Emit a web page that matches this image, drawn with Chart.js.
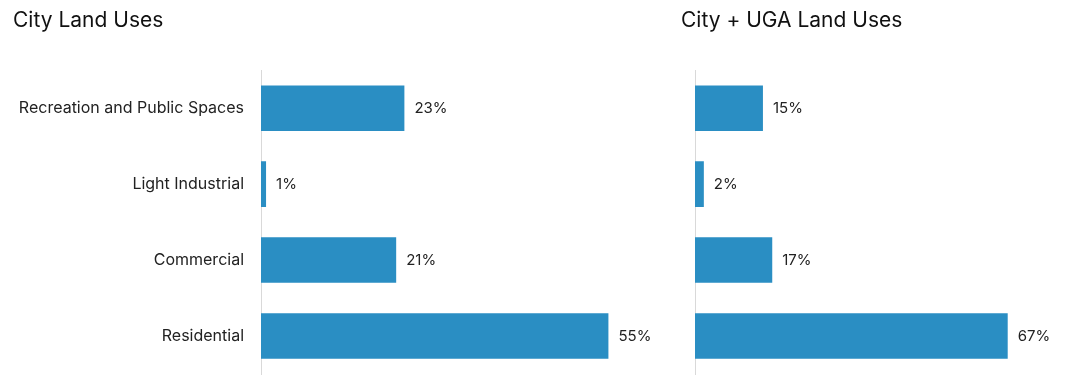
<!DOCTYPE html>
<html>
<head>
<meta charset="utf-8">
<script src="https://cdn.jsdelivr.net/npm/chart.js@4"></script>
<style>
  html, body { margin: 0; padding: 0; background: #fff; }
  body { width: 1065px; height: 375px; position: relative; overflow: hidden; }
  .box { position: absolute; top: 0; height: 375px; }
  #leftBox { left: 0; width: 670px; }
  #rightBox { left: 670px; width: 395px; }
</style>
</head>
<body>
<div class="box" id="leftBox"><canvas id="cityChart"></canvas></div>
<div class="box" id="rightBox"><canvas id="ugaChart"></canvas></div>
<script>
const categories = ['Recreation and Public Spaces', 'Light Industrial', 'Commercial', 'Residential'];
const cityShares = [22.7, 0.8, 21.4, 55.0];
const cityUgaShares = [14.6, 1.9, 16.6, 67.2];

const FONT = "Inter, 'Open Sans', sans-serif";
const BAR_COLOR = '#2a8ec3';

// draws "23%" right of each bar end
const valueLabels = {
  id: 'valueLabels',
  afterDatasetsDraw(chart) {
    const ctx = chart.ctx;
    const meta = chart.getDatasetMeta(0);
    const values = chart.data.datasets[0].data;
    ctx.save();
    ctx.font = '15px ' + FONT;
    ctx.fillStyle = '#222';
    ctx.textAlign = 'left';
    ctx.textBaseline = 'middle';
    meta.data.forEach((bar, i) => {
      ctx.fillText(Math.round(values[i]) + '%', bar.x + 10, bar.y);
    });
    ctx.restore();
  }
};

function makeChart(id, title, values, opts) {
  const ctx = document.getElementById(id);
  return new Chart(ctx, {
    type: 'bar',
    data: {
      labels: categories,
      datasets: [{
        data: values,
        backgroundColor: BAR_COLOR,
        borderWidth: 0,
        categoryPercentage: 1,
        barPercentage: 0.6
      }]
    },
    options: {
      indexAxis: 'y',
      responsive: true,
      maintainAspectRatio: false,
      animation: false,
      layout: { padding: opts.padding },
      plugins: {
        legend: { display: false },
        tooltip: { enabled: false },
        title: {
          display: true,
          text: title,
          align: 'start',
          color: '#111',
          font: { family: FONT, size: 21, weight: 'normal' },
          padding: { top: 8, bottom: 37 }
        }
      },
      scales: {
        x: {
          display: false,
          min: 0,
          max: opts.max
        },
        y: {
          grid: { display: false, drawTicks: false },
          border: { display: true, color: '#d9d9d9', width: 1 },
          ticks: {
            display: opts.showTicks,
            color: '#222',
            padding: 17,
            font: { family: FONT, size: 16 }
          },
          afterFit(scale) {
            // fixed axis width, and no extra vertical padding from the labels
            scale.width = opts.axisWidth;
            scale.paddingTop = 0;
            scale.paddingBottom = 0;
          }
        }
      }
    },
    plugins: [valueLabels]
  });
}

makeChart('cityChart', 'City Land Uses', cityShares, {
  padding: { left: 13, right: 30, top: 0, bottom: 1 },
  max: 60,
  axisWidth: 248,
  showTicks: true
});

makeChart('ugaChart', 'City + UGA Land Uses', cityUgaShares, {
  padding: { left: 11, right: 21, top: 0, bottom: 1 },
  max: 75,
  axisWidth: 14,
  showTicks: false
});
</script>
</body>
</html>
